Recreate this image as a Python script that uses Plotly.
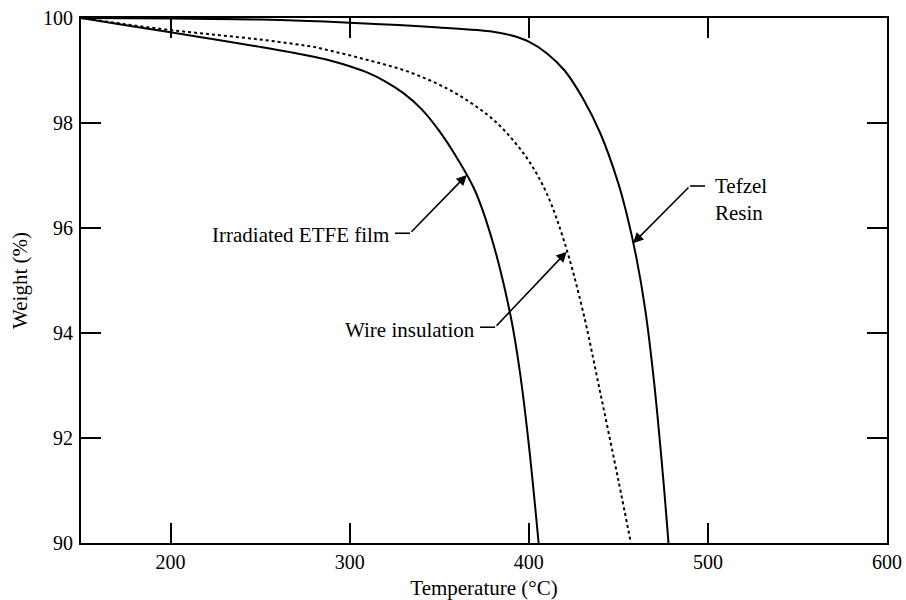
import plotly.graph_objects as go

# ---------------- data ----------------
irr_T = [150, 175, 200, 225, 250, 270, 280, 290, 300, 310, 320, 330, 340, 350, 360, 370, 380, 390, 395, 400, 405.5]
irr_W = [100, 99.86, 99.73, 99.59, 99.45, 99.33, 99.26, 99.18, 99.08, 98.96, 98.79, 98.57, 98.27, 97.85, 97.33,
         96.71, 95.72, 94.30, 93.27, 91.88, 90.0]

wire_T = [150, 175, 200, 225, 250, 270, 280, 290, 300, 310, 320, 330, 340, 350, 360, 370, 380, 390, 400, 410,
          420, 430, 440, 450, 457]
wire_W = [100, 99.88, 99.77, 99.68, 99.59, 99.50, 99.45, 99.37, 99.29, 99.20, 99.11, 99.01, 98.88, 98.73, 98.55,
          98.33, 98.07, 97.72, 97.28, 96.66, 95.72, 94.45, 92.85, 91.20, 90.0]

tef_T = [150, 200, 250, 300, 350, 380, 390, 400, 410, 420, 430, 440, 450, 455, 460, 465, 470, 475, 478]
tef_W = [100, 99.99, 99.97, 99.91, 99.82, 99.74, 99.67, 99.55, 99.33, 99.00, 98.48, 97.80, 96.85, 96.22, 95.45,
         94.45, 93.05, 91.25, 90.0]

x_ticks = [200, 300, 400, 500, 600]
y_ticks = [90, 92, 94, 96, 98, 100]

labels = ["Irradiated ETFE film", "Wire insulation", "Tefzel<br>Resin"]

FONT = "Liberation Serif"

fig = go.Figure()

line_style = dict(color="black", width=2, shape="spline", smoothing=1.0)
fig.add_trace(go.Scatter(x=irr_T, y=irr_W, mode="lines", line=line_style, showlegend=False, hoverinfo="skip"))
fig.add_trace(go.Scatter(x=wire_T, y=wire_W, mode="lines",
                         line=dict(color="black", width=2, shape="spline", smoothing=1.0, dash="3px,3px"),
                         showlegend=False, hoverinfo="skip"))
fig.add_trace(go.Scatter(x=tef_T, y=tef_W, mode="lines", line=line_style, showlegend=False, hoverinfo="skip"))

# leader lines: (text anchor, horizontal start, kink, arrow tip)
leaders = [
    dict(text=labels[0], tx=323.0, ty=95.86, xa="right", h0=(325.3, 95.90), k=(333.7, 95.90), tip=(365.4, 97.01)),
    dict(text=labels[1], tx=370.9, ty=94.06, xa="right", h0=(372.8, 94.11), k=(381.2, 94.11), tip=(421.2, 95.55)),
    dict(text=labels[2], tx=503.0, ty=96.54, xa="left", h0=(498.4, 96.80), k=(490.0, 96.80), tip=(458.2, 95.71)),
]

for L in leaders:
    fig.add_trace(go.Scatter(x=[L["h0"][0], L["k"][0]], y=[L["h0"][1], L["k"][1]], mode="lines",
                             line=dict(color="black", width=1.6), showlegend=False, hoverinfo="skip"))
    fig.add_annotation(x=L["tip"][0], y=L["tip"][1], ax=L["k"][0], ay=L["k"][1],
                       xref="x", yref="y", axref="x", ayref="y", text="",
                       showarrow=True, arrowhead=2, arrowsize=1.3, arrowwidth=1.6, arrowcolor="black")
    fig.add_annotation(x=L["tx"], y=L["ty"], xref="x", yref="y", text=L["text"], showarrow=False,
                       xanchor=L["xa"], yanchor="middle", align="left",
                       font=dict(family=FONT, size=21, color="black"))

axis_common = dict(showgrid=False, zeroline=False, showline=True, linecolor="black", linewidth=2,
                   mirror="ticks", ticks="inside", ticklen=20, tickwidth=2, tickcolor="black",
                   automargin=False,
                   tickfont=dict(family=FONT, size=20, color="black"))

fig.update_xaxes(range=[150, 600], tickvals=x_ticks, ticktext=[str(v) for v in x_ticks],
                 title=dict(text="Temperature (°C)", font=dict(family=FONT, size=21, color="black"), standoff=26),
                 ticklabelstandoff=0, **axis_common)
fig.update_yaxes(range=[90, 100], tickvals=y_ticks, ticktext=[str(v) for v in y_ticks],
                 title=dict(text="Weight (%)", font=dict(family=FONT, size=21, color="black"), standoff=10),
                 ticklabelstandoff=2, **axis_common)

fig.update_layout(width=906, height=600, margin=dict(l=81, r=19, t=18, b=57),
                  paper_bgcolor="white", plot_bgcolor="white",
                  font=dict(family=FONT, size=20, color="black"))

fig.write_html("out.html")
